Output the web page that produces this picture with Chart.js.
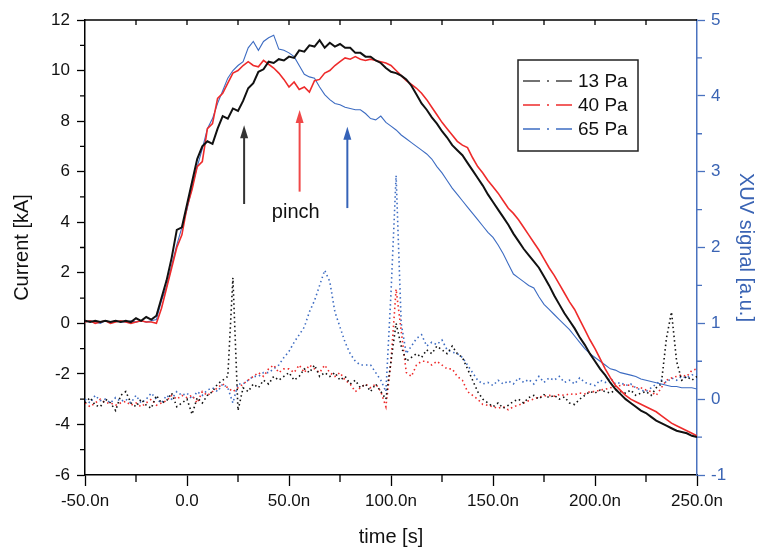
<!DOCTYPE html>
<html>
<head>
<meta charset="utf-8">
<script src="https://cdn.jsdelivr.net/npm/chart.js@4.4.1/dist/chart.umd.min.js"></script>
<style>
body { margin: 0; background: #fff; }
</style>
</head>
<body>
<canvas id="myChart" width="761" height="547"></canvas>
<script>
// time axis, ns
var times = [
  -50,-47.5,-45,-42.5,-40,-37.5,-35,-32.5,-30,-27.5,
  -25,-22.5,-20,-17.5,-15,-12.5,-10,-7.5,-5,-2.5,
  0,2.5,5,7.5,10,12.5,15,17.5,20,22.5,
  25,27.5,30,32.5,35,37.5,40,42.5,45,47.5,
  50,52.5,55,57.5,60,62.5,65,67.5,70,72.5,
  75,77.5,80,82.5,85,87.5,90,92.5,95,97.5,
  100,102.5,105,107.5,110,112.5,115,117.5,120,122.5,
  125,127.5,130,132.5,135,137.5,140,142.5,145,147.5,
  150,152.5,155,157.5,160,162.5,165,167.5,170,172.5,
  175,177.5,180,182.5,185,187.5,190,192.5,195,197.5,
  200,202.5,205,207.5,210,212.5,215,217.5,220,222.5,
  225,227.5,230,232.5,235,237.5,240,242.5,245,247.5,
  250
];

// current [kA]
var cur13 = [
  0.1,0.05,0.1,0.05,0.1,0.05,0.1,0.05,0.1,0.05,
  0.2,0.1,0.25,0.15,0.3,1.0,1.7,2.6,3.7,3.8,
  4.7,5.6,6.5,7.0,7.2,7.1,7.7,8.2,8.1,8.5,
  8.4,8.8,9.3,9.5,9.95,10.05,10.35,10.3,10.45,10.4,
  10.55,10.5,10.8,10.75,11.0,10.95,11.2,10.9,11.1,10.95,
  11.05,10.9,10.9,10.7,10.7,10.55,10.55,10.4,10.3,10.1,
  9.95,9.9,9.8,9.65,9.4,9.05,8.7,8.45,8.15,7.9,
  7.6,7.35,7.05,6.85,6.65,6.35,6.05,5.75,5.45,5.1,
  4.8,4.5,4.2,3.9,3.55,3.25,2.95,2.7,2.45,2.2,
  1.85,1.5,1.1,0.75,0.4,0.1,-0.2,-0.55,-0.85,-1.2,
  -1.5,-1.8,-2.05,-2.35,-2.6,-2.8,-3.0,-3.15,-3.3,-3.45,
  -3.55,-3.7,-3.85,-3.95,-4.05,-4.15,-4.25,-4.3,-4.35,-4.45,
  -4.5
];
var cur40 = [
  0.05,0.1,0.0,0.05,0.1,0.0,0.05,0.1,0.05,0.0,
  0.05,0.1,0.05,0.05,0.0,0.6,1.4,2.2,3.0,3.5,
  4.6,5.3,6.2,6.4,7.7,7.9,8.9,9.1,9.5,9.9,
  10.0,10.2,10.35,10.2,10.15,10.4,10.25,10.1,9.9,9.65,
  9.35,9.55,9.25,9.35,9.15,9.6,9.65,9.9,10.0,10.2,
  10.35,10.5,10.45,10.55,10.45,10.4,10.45,10.4,10.35,10.3,
  10.2,10.0,9.8,9.6,9.45,9.3,9.1,8.85,8.55,8.25,
  7.95,7.7,7.45,7.2,7.05,6.95,6.55,6.2,5.95,5.65,
  5.4,5.15,4.85,4.55,4.35,4.1,3.8,3.5,3.2,2.9,
  2.55,2.2,1.9,1.55,1.2,0.85,0.55,0.15,-0.25,-0.65,
  -1.0,-1.4,-1.8,-2.15,-2.45,-2.65,-2.85,-3.0,-3.1,-3.2,
  -3.3,-3.4,-3.5,-3.65,-3.8,-3.95,-4.05,-4.15,-4.25,-4.35,
  -4.45
];
var cur65 = [
  0.05,0.1,0.05,0.0,0.1,0.05,0.1,0.05,0.05,0.1,
  0.05,0.1,0.05,0.1,0.15,0.9,1.45,2.3,3.1,3.8,
  4.5,5.4,6.2,6.9,7.7,8.1,8.7,9.2,9.7,10.0,
  10.2,10.35,10.9,11.15,10.8,11.15,11.3,11.4,10.85,10.8,
  10.7,10.55,10.2,9.85,9.75,9.7,9.35,9.05,8.85,8.7,
  8.65,8.55,8.5,8.45,8.45,8.3,8.1,8.05,8.2,7.95,
  7.8,7.65,7.45,7.3,7.15,7.0,6.85,6.7,6.5,6.2,
  5.95,5.65,5.35,5.1,4.85,4.6,4.35,4.1,3.85,3.6,
  3.4,3.1,2.75,2.35,1.95,1.8,1.65,1.5,1.4,1.05,
  0.75,0.55,0.35,0.15,-0.05,-0.25,-0.5,-0.75,-1.0,-1.2,
  -1.35,-1.5,-1.65,-1.8,-1.85,-1.95,-2.0,-2.05,-2.1,-2.2,
  -2.25,-2.3,-2.35,-2.4,-2.45,-2.5,-2.5,-2.55,-2.55,-2.55,
  -2.6
];

// XUV signal [a.u.]
var xuv13 = [
  -0.05,0.02,-0.08,-0.1,0.0,-0.05,-0.15,0.05,0.1,-0.05,
  -0.1,0.0,-0.08,-0.12,0.05,-0.05,-0.02,0.08,-0.1,-0.05,
  0.0,-0.2,0.02,-0.05,0.05,0.1,0.2,0.25,0.3,1.6,
  -0.15,0.15,0.1,0.2,0.15,0.25,0.2,0.3,0.25,0.3,
  0.35,0.25,0.3,0.4,0.35,0.45,0.3,0.35,0.3,0.35,
  0.25,0.3,0.2,0.25,0.15,0.2,0.1,0.2,0.1,0.0,
  0.5,1.0,0.7,0.5,0.55,0.6,0.55,0.65,0.6,0.7,
  0.65,0.6,0.7,0.6,0.55,0.4,0.25,0.1,0.0,-0.05,
  -0.1,-0.05,-0.12,-0.08,-0.03,0.0,-0.05,0.02,0.05,0.0,
  0.06,0.02,0.05,0.0,0.03,-0.05,-0.07,0.0,0.05,0.1,
  0.08,0.12,0.1,0.08,0.12,0.1,0.08,0.12,0.05,0.08,
  0.1,0.05,0.15,0.2,0.8,1.15,0.5,0.25,0.3,0.25,
  0.3
];
var xuv40 = [
  -0.05,-0.1,-0.05,0.0,-0.05,-0.05,-0.08,-0.05,-0.03,-0.08,
  -0.05,-0.1,-0.05,0.0,-0.08,-0.05,-0.02,0.05,0.0,0.05,
  0.02,0.05,-0.05,0.1,0.05,0.1,0.15,0.2,0.15,0.1,
  0.15,0.2,0.25,0.3,0.35,0.3,0.4,0.45,0.35,0.4,
  0.4,0.35,0.45,0.35,0.45,0.4,0.35,0.45,0.35,0.3,
  0.35,0.25,0.2,0.1,0.15,0.2,0.15,0.2,0.1,-0.1,
  0.5,1.45,0.9,0.35,0.3,0.45,0.5,0.5,0.45,0.5,
  0.45,0.4,0.4,0.3,0.25,0.1,0.05,0.0,-0.07,-0.08,
  -0.1,-0.12,-0.1,-0.14,-0.1,-0.08,-0.05,-0.02,0.0,0.03,
  0.04,0.05,0.04,0.06,0.05,0.07,0.06,0.08,0.07,0.1,
  0.1,0.12,0.13,0.15,0.17,0.18,0.19,0.18,0.15,0.15,
  0.12,0.1,0.05,0.15,0.25,0.28,0.3,0.32,0.3,0.38,
  0.4
];
var xuv65 = [
  0.0,-0.05,0.05,-0.02,0.0,-0.05,0.02,-0.03,0.0,-0.05,
  0.05,-0.05,0.0,0.08,0.0,-0.05,0.05,0.0,0.1,0.05,
  0.08,0.0,0.1,0.05,0.12,0.15,0.1,0.2,0.15,-0.05,
  0.2,0.2,0.25,0.3,0.3,0.35,0.35,0.4,0.45,0.55,
  0.63,0.75,0.85,0.95,1.15,1.3,1.5,1.7,1.55,1.15,
  0.95,0.75,0.6,0.5,0.45,0.45,0.45,0.35,0.25,0.1,
  1.4,2.95,1.0,0.6,0.7,0.8,0.85,0.7,0.75,0.72,
  0.78,0.65,0.62,0.6,0.55,0.45,0.35,0.25,0.2,0.22,
  0.18,0.25,0.2,0.24,0.2,0.28,0.22,0.26,0.2,0.3,
  0.22,0.28,0.25,0.3,0.22,0.25,0.2,0.28,0.22,0.2,
  0.18,0.25,0.22,0.28,0.2,0.22,0.18,0.2,0.15,0.12,
  0.1,0.15,0.2,0.25,0.22,0.28,0.25,0.3,0.28,0.32,
  0.33
];

var seriesNames = ["13 Pa", "40 Pa", "65 Pa"];
var colBlack = "#111111";
var colRed = "#ee2b2b";
var colBlue = "#3d6cc2";
var axisBlue = "#4a72bf";

function pts(arr) {
  return times.map(function (t, i) { return { x: t, y: arr[i] }; });
}

function curSet(arr, color, w) {
  return { data: pts(arr), yAxisID: "y", borderColor: color, borderWidth: w,
           pointRadius: 0, tension: 0, fill: false };
}
function xuvSet(arr, color) {
  return { data: pts(arr), yAxisID: "y1", borderColor: color, borderWidth: 1.6,
           borderDash: [1.5, 3], pointRadius: 0, tension: 0, fill: false };
}

// minor ticks, top border, arrows, pinch label and legend box
var decor = {
  id: "decor",
  afterDraw: function (chart) {
    var ctx = chart.ctx;
    var x = chart.scales.x, y = chart.scales.y, y1 = chart.scales.y1;
    var a = chart.chartArea;
    ctx.save();
    ctx.lineWidth = 1.3;
    // top border with inward ticks
    ctx.strokeStyle = "#000";
    ctx.beginPath();
    ctx.moveTo(a.left, a.top); ctx.lineTo(a.right, a.top);
    for (var t = -25; t < 250; t += 25) {
      var px = x.getPixelForValue(t);
      ctx.moveTo(px, a.top); ctx.lineTo(px, a.top + 5);
    }
    ctx.stroke();
    // bottom minor ticks
    ctx.beginPath();
    for (var t2 = -25; t2 < 250; t2 += 50) {
      var px2 = x.getPixelForValue(t2);
      ctx.moveTo(px2, a.bottom); ctx.lineTo(px2, a.bottom + 7);
    }
    // left minor ticks
    for (var v = -5; v < 12; v += 2) {
      var py = y.getPixelForValue(v);
      ctx.moveTo(a.left, py); ctx.lineTo(a.left - 5, py);
    }
    ctx.stroke();
    // right minor ticks
    ctx.strokeStyle = axisBlue;
    ctx.beginPath();
    for (var w = -0.5; w < 5; w += 1) {
      var py2 = y1.getPixelForValue(w);
      ctx.moveTo(a.right, py2); ctx.lineTo(a.right + 5, py2);
    }
    ctx.stroke();

    // pinch arrows
    var arrows = [
      { t: 28.0, from: 4.72, to: 7.84, color: "#333333" },
      { t: 55.2, from: 5.21, to: 8.44, color: "#f04848" },
      { t: 78.6, from: 4.56, to: 7.78, color: "#3563b8" }
    ];
    arrows.forEach(function (ar) {
      var ax = x.getPixelForValue(ar.t);
      var yb = y.getPixelForValue(ar.from);
      var yt = y.getPixelForValue(ar.to);
      ctx.strokeStyle = ar.color;
      ctx.fillStyle = ar.color;
      ctx.lineWidth = 2;
      ctx.beginPath();
      ctx.moveTo(ax, yb); ctx.lineTo(ax, yt + 10);
      ctx.stroke();
      ctx.beginPath();
      ctx.moveTo(ax, yt); ctx.lineTo(ax - 4, yt + 13); ctx.lineTo(ax + 4, yt + 13);
      ctx.closePath();
      ctx.fill();
    });
    ctx.fillStyle = "#111";
    ctx.font = "20px 'Liberation Sans', Arial, sans-serif";
    ctx.textAlign = "center";
    ctx.textBaseline = "middle";
    ctx.fillText("pinch", x.getPixelForValue(53.3), y.getPixelForValue(4.4));

    // legend box
    var lx = 518, ly = 60, lw = 120, lh = 91;
    ctx.strokeStyle = "#222";
    ctx.lineWidth = 1.5;
    ctx.strokeRect(lx, ly, lw, lh);
    var cols = ["#444444", colRed, colBlue];
    ctx.textAlign = "left";
    ctx.font = "19px 'Liberation Sans', Arial, sans-serif";
    for (var i = 0; i < 3; i++) {
      var ey = ly + 21 + i * 24;
      ctx.strokeStyle = cols[i];
      ctx.lineWidth = 1.6;
      ctx.beginPath();
      ctx.moveTo(lx + 5, ey); ctx.lineTo(lx + 22, ey);
      ctx.moveTo(lx + 29, ey); ctx.lineTo(lx + 31, ey);
      ctx.moveTo(lx + 38, ey); ctx.lineTo(lx + 54, ey);
      ctx.stroke();
      ctx.fillStyle = "#111";
      ctx.fillText(seriesNames[i], lx + 60, ey + 1);
    }
    ctx.restore();
  }
};

Chart.defaults.font.family = "'Liberation Sans', Arial, sans-serif";
Chart.defaults.color = "#111";

var ctx = document.getElementById("myChart").getContext("2d");
var myChart = new Chart(ctx, {
  type: "line",
  data: {
    datasets: [
      curSet(cur13, colBlack, 2),
      curSet(cur40, colRed, 1.6),
      curSet(cur65, colBlue, 1.1),
      xuvSet(xuv13, colBlack),
      xuvSet(xuv40, colRed),
      xuvSet(xuv65, colBlue)
    ]
  },
  options: {
    responsive: false,
    animation: false,
    layout: { padding: { top: 20, left: 0, right: 0, bottom: 0 } },
    plugins: { legend: { display: false }, tooltip: { enabled: false } },
    scales: {
      x: {
        type: "linear", min: -50, max: 250,
        border: { color: "#000", width: 1.5 },
        grid: { drawOnChartArea: false, tickLength: 11, tickColor: "#000", tickWidth: 1.3 },
        ticks: { stepSize: 50, autoSkip: false, maxRotation: 0, padding: 5,
                 font: { size: 17 }, color: "#111",
                 callback: function (v) { return v === 0 ? "0.0" : v.toFixed(1) + "n"; } },
        title: { display: true, text: "time [s]", color: "#111",
                 font: { size: 20, lineHeight: 1 }, padding: { top: 0, bottom: 0 } },
        afterFit: function (s) { s.height = 72; }
      },
      y: {
        position: "left", min: -6, max: 12,
        border: { color: "#000", width: 1.5 },
        grid: { drawOnChartArea: false, tickLength: 8, tickColor: "#000", tickWidth: 1.3 },
        ticks: { stepSize: 2, padding: 7, font: { size: 17 }, color: "#111" },
        title: { display: true, text: "Current [kA]", color: "#111",
                 font: { size: 20, lineHeight: 1 }, padding: { top: 12, bottom: 0 } },
        afterFit: function (s) { s.width = 85; }
      },
      y1: {
        position: "right", min: -1, max: 5,
        border: { color: axisBlue, width: 1.5 },
        grid: { drawOnChartArea: false, tickLength: 8, tickColor: axisBlue, tickWidth: 1.3 },
        ticks: { stepSize: 1, padding: 6, font: { size: 17 }, color: "#3a64b4" },
        title: { display: true, text: "XUV signal [a.u.]", color: "#3a64b4",
                 font: { size: 20, lineHeight: 1 }, padding: { top: 5, bottom: 0 } },
        afterFit: function (s) { s.width = 64; }
      }
    }
  },
  plugins: [decor]
});
</script>
</body>
</html>
